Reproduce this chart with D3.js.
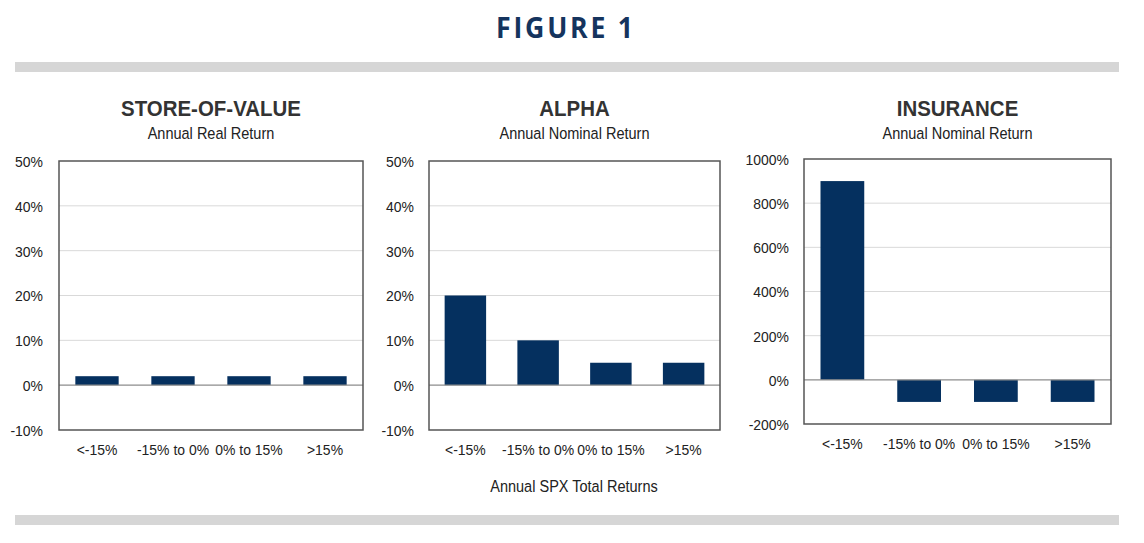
<!DOCTYPE html>
<html><head><meta charset="utf-8">
<script src="https://cdn.jsdelivr.net/npm/d3@7"></script>
<style>
body{margin:0;background:#fff;}
svg{display:block;}
</style></head>
<body>
<svg id="chart" width="1144" height="543"></svg>
<script>
const categories = ["<-15%", "-15% to 0%", "0% to 15%", ">15%"];
const storeValues = [2, 2, 2, 2];
const alphaValues = [20, 10, 5, 5];
const insuranceValues = [900, -100, -100, -100];
const pctTicks = [-10, 0, 10, 20, 30, 40, 50];
const insTicks = [-200, 0, 200, 400, 600, 800, 1000];
const panelTitles = ["STORE-OF-VALUE", "ALPHA", "INSURANCE"];
const panelSubtitles = ["Annual Real Return", "Annual Nominal Return", "Annual Nominal Return"];

const svg = d3.select("#chart");
const navy = "#05305f";
const font = "'Liberation Sans', Arial, sans-serif";

svg.append("text").attr("x", 566).attr("y", 38).attr("text-anchor", "middle")
  .attr("font-family", "'Open Sans', sans-serif").attr("font-weight", 700)
  .attr("font-size", 29).attr("letter-spacing", 3).attr("fill", "#15345e")
  .attr("transform", "translate(566,0) scale(0.92,1) translate(-566,0)")
  .text("FIGURE 1");

svg.append("rect").attr("x", 15).attr("y", 62).attr("width", 1104).attr("height", 10).attr("fill", "#d6d6d6");
svg.append("rect").attr("x", 15).attr("y", 515).attr("width", 1104).attr("height", 10).attr("fill", "#d6d6d6");

const panels = [
  {x0: 59, x1: 363, y0: 161, y1: 430, values: storeValues, ticks: pctTicks, domain: [-10, 50], labelX: 43, catY: 456},
  {x0: 429, x1: 720, y0: 161, y1: 430, values: alphaValues, ticks: pctTicks, domain: [-10, 50], labelX: 414, catY: 456},
  {x0: 804, x1: 1111, y0: 159, y1: 424, values: insuranceValues, ticks: insTicks, domain: [-200, 1000], labelX: 789, catY: 450}
];

panels.forEach((p, i) => {
  const g = svg.append("g");
  const y = d3.scaleLinear().domain(p.domain).range([p.y1, p.y0]);
  const x = d3.scaleBand().domain(categories).range([p.x0, p.x1]).paddingInner(0.43).paddingOuter(0.215);
  const cx = (p.x0 + p.x1) / 2;

  g.append("text").attr("x", cx).attr("y", 116).attr("text-anchor", "middle")
    .attr("font-family", font).attr("font-weight", 700).attr("font-size", 22)
    .attr("fill", "#333").attr("transform", `translate(${cx},0) scale(0.93,1) translate(${-cx},0)`)
    .text(panelTitles[i]);
  g.append("text").attr("x", cx).attr("y", 139).attr("text-anchor", "middle")
    .attr("font-family", font).attr("font-size", 16.5)
    .attr("fill", "#222").attr("transform", `translate(${cx},0) scale(0.88,1) translate(${-cx},0)`)
    .text(panelSubtitles[i]);

  g.selectAll("line.grid").data(p.ticks.filter(t => t !== 0 && t !== p.domain[0] && t !== p.domain[1]))
    .enter().append("line")
    .attr("x1", p.x0).attr("x2", p.x1)
    .attr("y1", d => y(d)).attr("y2", d => y(d))
    .attr("stroke", "#d9d9d9").attr("stroke-width", 1);

  g.selectAll("rect.bar").data(p.values).enter().append("rect")
    .attr("x", (d, j) => x(categories[j]))
    .attr("width", x.bandwidth())
    .attr("y", d => y(Math.max(0, d)))
    .attr("height", d => Math.abs(y(d) - y(0)))
    .attr("fill", navy);

  g.append("line").attr("x1", p.x0).attr("x2", p.x1).attr("y1", y(0)).attr("y2", y(0))
    .attr("stroke", "#8c8c8c").attr("stroke-width", 1.2);

  g.append("rect").attr("x", p.x0).attr("y", p.y0).attr("width", p.x1 - p.x0).attr("height", p.y1 - p.y0)
    .attr("fill", "none").attr("stroke", "#555").attr("stroke-width", 1.5);

  const yAxis = d3.axisLeft(y).tickValues(p.ticks).tickFormat(d => d + "%").tickSize(0).tickPadding(0);
  const ya = g.append("g").attr("transform", `translate(${p.labelX},0)`).call(yAxis);
  ya.select(".domain").remove();
  ya.selectAll("text").attr("font-family", font).attr("font-size", 15.5).attr("fill", "#222")
    .attr("dy", "0.35em")
    .attr("transform", "scale(0.9,1)");

  const xAxis = d3.axisBottom(x).tickSize(0).tickPadding(0);
  const xa = g.append("g").attr("transform", `translate(0,${p.catY - 12})`).call(xAxis);
  xa.select(".domain").remove();
  xa.selectAll("text").attr("font-family", font).attr("font-size", 15.5).attr("fill", "#222")
    .attr("dy", "0.71em")
    .attr("transform", "scale(0.9,1)");
});

svg.append("text").attr("x", 574).attr("y", 492).attr("text-anchor", "middle")
  .attr("font-family", font).attr("font-size", 16.5).attr("fill", "#222")
  .attr("transform", "translate(574,0) scale(0.88,1) translate(-574,0)")
  .text("Annual SPX Total Returns");
</script>
</body></html>
